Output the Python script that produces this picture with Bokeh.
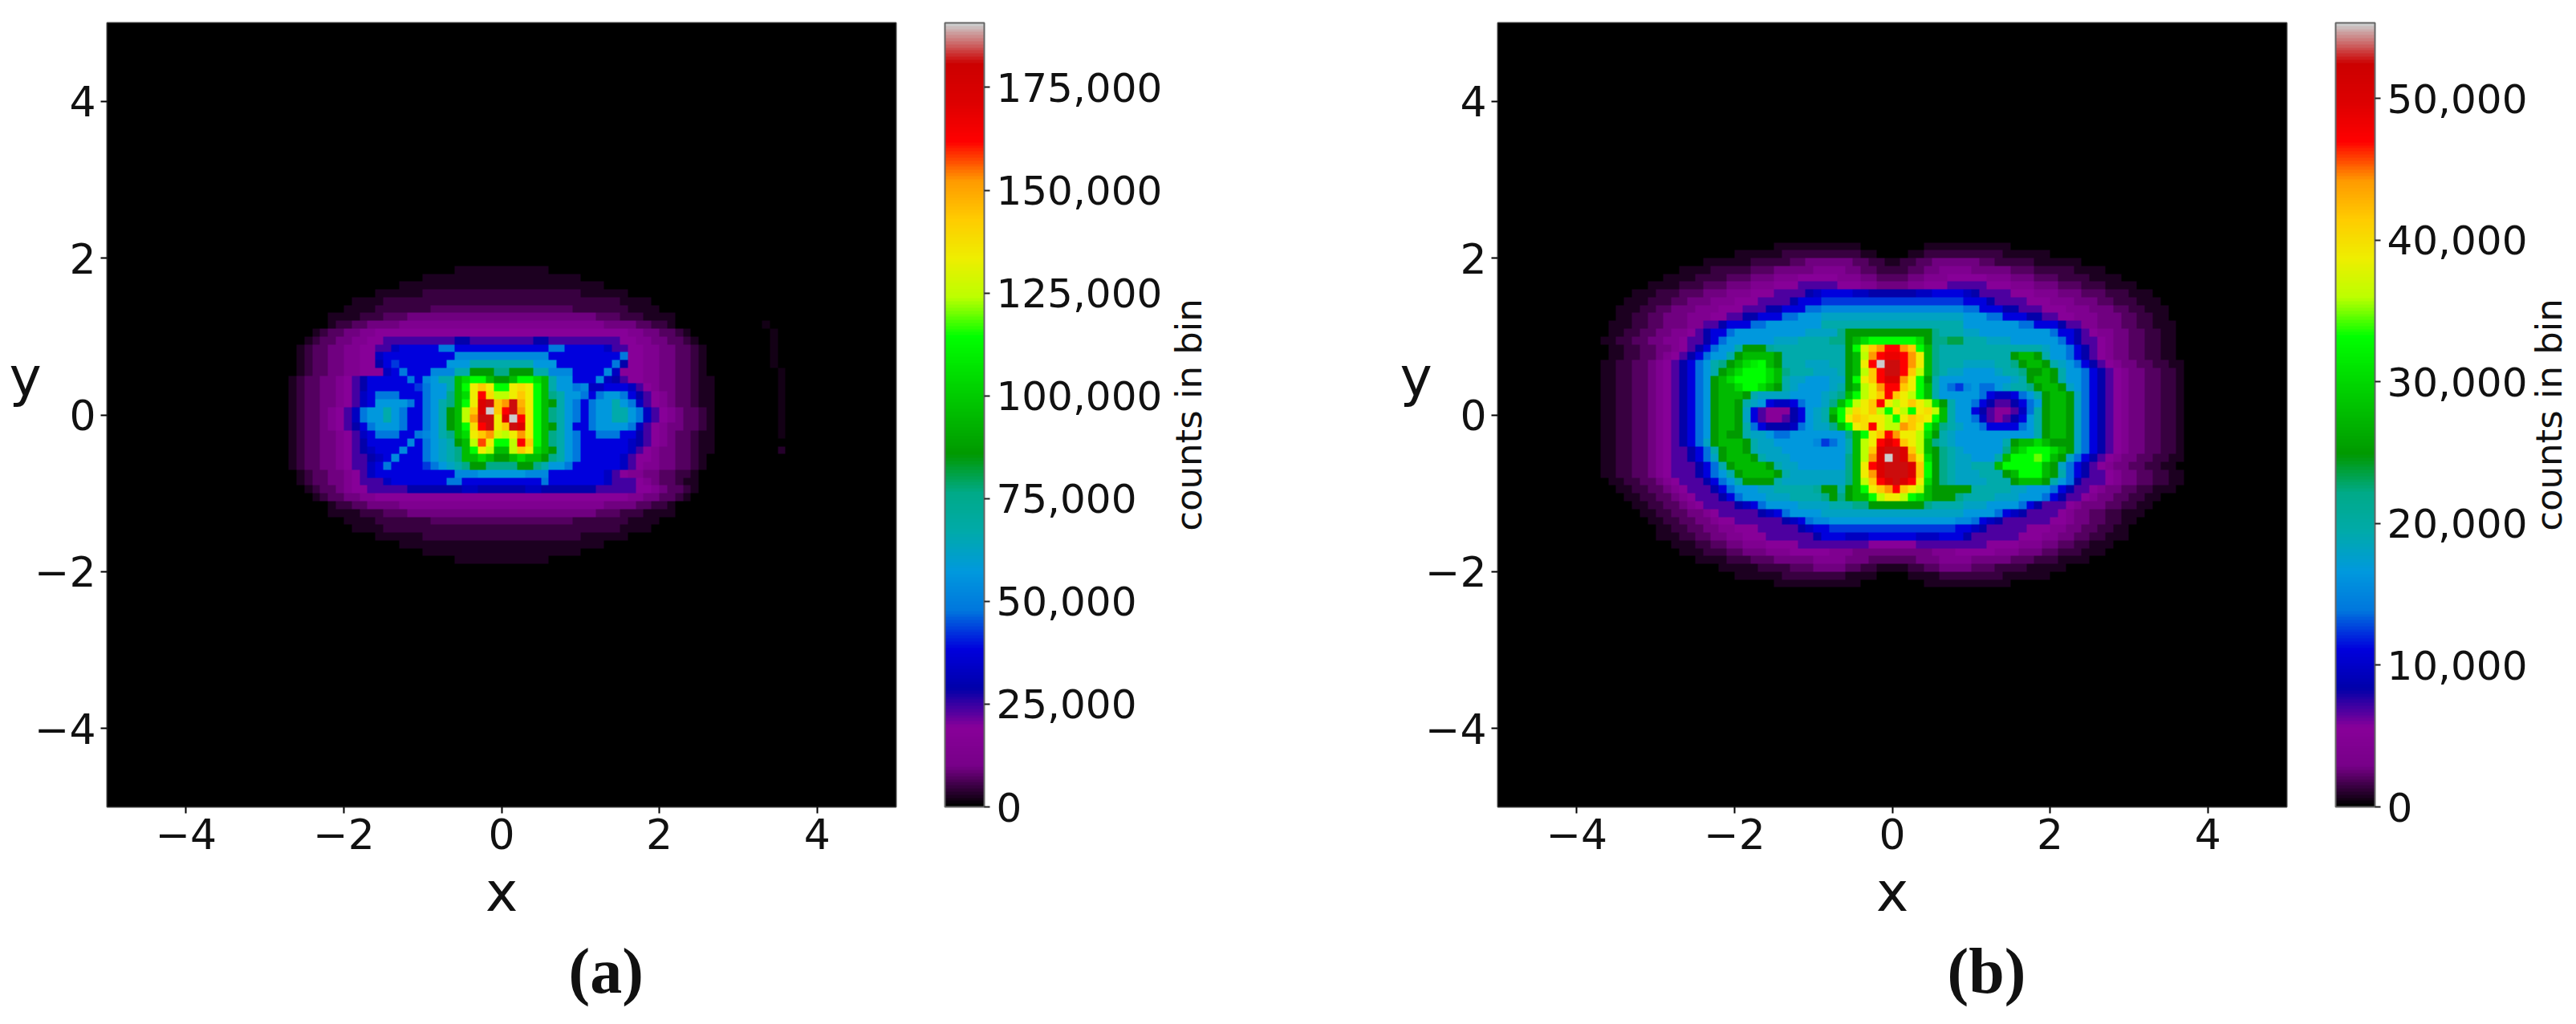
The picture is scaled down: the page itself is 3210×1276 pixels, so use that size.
import numpy as np
from bokeh.embed import file_html
from bokeh.layouts import row
from bokeh.models import ColorBar, FixedTicker, LinearColorMapper, NumeralTickFormatter, Title
from bokeh.plotting import figure
from bokeh.resources import INLINE

# Colour scale (nipy_spectral anchors, evenly spaced)
scale_colors = ["#000000", "#770088", "#880099", "#0000aa", "#0000dd", "#0077dd", "#0099dd", "#00aaaa",
                "#00aa88", "#009900", "#00bb00", "#00dd00", "#00ff00", "#bbff00", "#eeee00", "#ffcc00",
                "#ff9900", "#ff0000", "#dd0000", "#cc0000", "#cccccc"]

axis_ticks = [-4, -2, 0, 2, 4]
axis_tick_labels = {-4: "\u22124", -2: "\u22122", 0: "0", 2: "2", 4: "4"}
a_bar_ticks = [0, 25000, 50000, 75000, 100000, 125000, 150000, 175000]
b_bar_ticks = [0, 10000, 20000, 30000, 40000, 50000]
a_peak = 190700
b_peak = 55350
bin_count = 100

# Read bin levels, run-length coded row by row from the top (char + repeat); "|" marks x = 0.
# A level is 1/40 of the peak.
level_chars = {".": 0.5, ":": 1.5}
for i, c in enumerate("0123456789abcdefghijklmnopqrstuvwxyzABCDE"):
    level_chars[c] = float(i)

a_rows = [
    "|",
    ".6 | .6",
    ".10 | .10",
    ".13 | .13",
    ".6 110 | 110 .6",
    ".4 115 | 115 .4",
    ".4 17 :9 | :9 17 .4",
    ".4 13 :3 212 | 212 :3 13 .4",
    ". 12 :2 24 313 | 313 24 :2 12 .",
    ". 1 :2 22 32 416 | 416 32 22 :2 1 .",
    ". 1 :2 22 32 42 59 62 54 | 54 62 59 42 32 22 :2 1 .",
    ". 1 :2 22 32 42 52 7 85 a2 86 | 86 a2 85 7 52 42 32 22 :2 1 .",
    ". 1 :2 22 32 42 7 89 b6 | b6 89 a 42 32 22 :2 1 .",
    ". 1 :2 22 32 42 6 8 9 86 c3 e4 | e4 c3 87 a 6 42 32 22 :2 1 .",
    ". 1 :2 22 32 43 7 8 a 83 b3 e2 i3 g | g i3 e2 b3 84 b 7 43 32 22 :2 1 .",
    ". 1 :2 22 3 4 5 6 8 84 a 8 b c e2 k m o o k i | i k o o m k e c2 8 82 b 7 6 5 42 3 3 22 :2 1 . .",
    ". 1 :2 22 3 4 5 6 8 85 9 a c2 e k o s u s o | o s t s o k e c2 a b 7 7 8 82 7 5 4 3 22 :2 1 . .",
    ". 1 :2 22 3 4 5 7 8 a3 83 a c2 g k m s y t q | q s u s o k g e c2 a 8 a c2 a 8 6 5 4 3 2 :2 1 . .",
    ". 1 :2 22 3 4 5 7 8 c4 a 8 a c e g k o s A C u | w C v s o k i e c a 8 a c2 e c a 7 5 4 3 2 :2 1 . .",
    ". 1 :2 2 3 4 5 7 a c2 e c a 8 8 a c e i k q u A E u | y C w s o k g e c a 8 a c2 e2 c a 7 5 4 3 2 :2 1 .",
    ". 1 :2 2 3 4 5 7 a c2 e c a 8 8 a c e i k q w C C s | A E y s o k g e c a 8 a c2 e2 c a 7 5 4 3 2 :2 1 .",
    ". 1 :2 2 3 4 5 6 8 a c3 a 8 8 a c e i k o t y C s | u C A s o k i e c 8 8 a c3 c a 7 5 4 3 2 2 :2 1 .",
    ". 1 :2 22 3 4 5 7 8 a3 82 a b c e g k m s u w r | q s w s o k g e c a 82 a3 82 6 5 4 3 2 :2 1 . .",
    ". 1 :2 22 3 4 5 6 8 84 b 8 a c d e i k q x s o | o q y u o k g e c a 8 85 7 6 5 4 3 2 :2 1 . .",
    ". 1 :2 22 3 4 5 6 7 83 b 82 a c d e g k o s q k | k q u s m k i e c a 8 85 7 5 4 3 22 :2 1 . .",
    ". 1 :2 22 3 4 52 6 7 8 b 8 82 a c d e g k k m k i | i k m k k i g e c a 82 83 7 5 42 3 22 :2 1 .",
    ". 1 :2 22 3 4 52 7 8 a 84 9 a c d e g i i g2 | g2 i i g e c2 a 8 85 7 5 4 32 22 :2 1 .",
    ". 1 :2 22 3 4 5 7 810 b3 c3 | c3 b3 87 7 5 4 32 22 :2 12 .",
    ". 1 :2 22 3 4 53 7 87 a2 85 | 85 a 87 7 53 4 3 2 :2 1 . .",
    ". 1 :2 2 3 42 55 67 72 63 | 63 72 67 55 42 3 2 :2 1 .",
    ". 1 :2 22 32 416 | 416 32 22 :2 1 .",
    ". 12 :2 24 313 | 313 24 :2 12 .",
    ".4 13 :3 212 | 212 :3 13 .4",
    ".4 17 :9 | :9 17 .4",
    ".4 115 | 115 .4",
    ".6 110 | 110 .6",
    ".13 | .13",
    ".10 | .10",
    ".6 | .6",
    "|",
]

# Faint trace to the right of the cloud in panel (a)
a_trace_x = [3.35, 3.4, 3.4, 3.45, 3.45, 3.45, 3.5, 3.5, 3.5, 3.5, 3.55, 3.55, 3.55, 3.55, 3.55, 3.55]
a_trace_y = [1.15, 1.05, 0.95, 0.85, 0.75, 0.65, 0.55, 0.45, 0.35, 0.25, 0.15, 0.05, -0.05, -0.15, -0.25, -0.45]
a_trace_counts = [1800, 1800, 1500, 1500, 1500, 1500, 1500, 1500, 1500, 1500, 1500, 1500, 1500, 1800, 1800, 3000]

b_rows = [
    ".11 04 | 04 .11",
    ".6 110 .2 02 | 02 .2 110 .6",
    ".6 15 :2 26 :2 12 . | . 12 :2 26 :2 15 .6",
    ".4 15 :3 25 34 22 :2 12 | 12 :2 22 34 25 :3 15 .4",
    ".4 14 :3 23 33 45 33 22 :2 | :2 22 33 45 33 23 :3 14 .4",
    ".4 13 :3 23 33 43 55 43 32 22 | 22 32 43 55 43 33 23 :3 13 .4",
    ".3 13 :3 23 33 43 54 6 7 84 72 63 | 63 72 84 7 6 54 43 33 23 :3 13 .3",
    ".3 13 :2 23 33 43 54 6 83 99 | 99 83 6 54 43 33 23 :2 13 .3",
    ".3 12 :2 23 33 43 53 62 83 a2 b9 | b9 a2 83 62 53 43 33 23 :2 12 .3",
    ".2 12 :2 23 33 42 52 62 83 a2 c3 d9 | d9 c3 a2 83 62 52 42 33 23 :2 12 .2",
    ".3 12 :2 23 32 52 6 83 a2 c7 e9 | e9 c7 a2 83 6 52 32 23 :2 12 .3",
    ".2 12 :2 22 32 4 5 6 82 a c9 d4 g i6 | i5 g e3 d2 c9 a 82 6 5 4 32 22 :2 12 .2",
    ".2 12 :2 22 32 4 52 6 8 a c6 d3 e4 g2 i k m o3 | o3 m i g2 h2 e3 d3 c6 a 8 6 52 4 3 22 :2 12 .2",
    ".2 12 :2 22 3 4 5 6 8 a c2 e i3 f e9 i o r u w y | y w u o k g e13 d c2 a 8 6 5 4 3 22 :2 12 .2",
    ".2 12 :2 2 3 4 5 6 8 a c2 e i k4 i e8 i k q w y z | z y w s k g e9 i k2 i e c2 a 8 6 5 4 3 22 :2 12 .2",
    ".2 12 :2 2 3 4 5 6 8 a c e g i k m n o k i e3 d3 e2 i k s y E C | C y w s k g e3 d4 e2 g i k2 i e d c a 8 6 5 4 3 22 :2 12 .2",
    ".2 12 :2 2 3 4 5 6 8 a c e i k m o3 m k g e3 d3 e i k q u y C | C y u q k g e d2 c4 d e2 g i2 k i e c2 a 8 6 5 4 3 22 :2 12 .",
    ".2 12 :2 2 3 4 5 6 8 a c i k m o4 m k e d2 c3 d2 i o s u y A | A w s o i e c9 d e i k2 i e c2 a 8 6 5 4 3 22 :2 12 .",
    ".2 12 :2 2 3 4 5 6 8 a c i k2 m o2 m k i e d c4 d e i k q s w y | y u s o k e c a 9 b c a2 c d e2 g i k2 i d c a 8 6 5 4 3 22 :2 12 .",
    ".2 12 :2 2 3 4 5 6 8 a c i k3 i e d4 c4 d e g k o q s u y | u s q o k e c5 a 8 7 7 8 a c e i k2 i d a 8 6 5 4 3 22 :2 12 .",
    ".2 12 :2 2 3 4 5 6 8 a c i k2 i e d c 8 7 7 8 a c2 d g k o q s u y s | q s u s q m i e c2 a 8 6 5 5 6 8 a c i k2 i d a 8 6 5 4 3 22 :2 12 .",
    ".2 12 :2 2 3 4 5 6 8 a c i k2 i d 8 5 4 4 4 6 8 c d e k o q t s u q o | s q o s t q k e c2 8 6 5 4 4 5 7 a e i k2 i d a 8 6 5 4 3 22 :2 12 .",
    ".2 12 :2 2 3 4 5 6 8 a c i k2 i d 8 5 4 4 5 6 8 c d e i o s u t s s q | o s u t s o k e c2 a 7 5 4 5 6 8 c e i k2 i d a 8 6 5 4 3 22 :2 12 .",
    ".2 12 :2 2 3 4 5 6 8 a c i k2 i e a 8 6 6 6 7 a c d2 g k o s t y s q | q w u s o k g e d c2 a 84 a c e i k2 i d a 8 6 5 4 3 22 :2 12 .",
    ".2 12 :2 2 3 4 5 6 8 a c i k i2 e d2 c a a c7 g k o s u y | w s s q m i e d c10 e i k2 i d a 8 6 5 4 3 22 :2 12 .",
    ".2 12 :2 2 3 4 5 6 8 a d i k3 i e d2 c5 b 9 a c e k q s y A | y u s q k g e d c6 e i k2 m k i3 d a 8 6 5 4 3 22 :2 12 .",
    ".2 12 :2 2 3 4 5 5 6 8 a e i k2 i e d3 c8 e k q u A C | C A u q k i g e d c5 g k m o3 m k i d a 8 6 5 4 3 22 :2 12 .",
    ".2 12 :2 2 3 4 5 5 6 8 a d i k3 i e d3 c7 g k q w A E | C A w s m i g e d2 c3 e k o3 p o k i d a 8 6 5 4 3 22 :2 12 .2",
    ".2 12 :2 2 3 4 5 5 5 6 8 a e i k4 i e d2 c6 g k s y A C | C C A u o i g e d2 e3 k o5 k i d a 8 6 5 4 3 22 :2 12 .2",
    ".2 12 :2 2 3 4 53 6 8 a c e i k4 i e d7 g k s w A C | C C A u o i g e d3 e3 i k o3 k i e a 8 6 52 4 3 22 :2 12 .2",
    ".2 12 :2 2 3 4 53 6 8 a c e i3 i e d8 g k q u y A | C A y s m i g e d4 e3 i k3 i e c a 6 53 4 3 2 2 :2 12 .2",
    ".2 12 :2 2 3 4 53 6 8 a c3 d2 e5 f i2 e i k o s u w | y u s q k i3 i2 e5 d2 c3 a 8 6 52 4 3 22 :2 12 .3",
    ".2 12 :2 2 3 4 53 6 8 a c3 d3 e4 g i g i k2 o q s | s q o m k i3 g e4 d3 c3 a 8 6 52 4 3 22 :2 12 .2",
    ".2 12 :2 2 3 4 54 6 7 8 a c4 d4 e3 g2 i3 | i4 g e4 d3 c4 a 8 6 53 4 3 23 :2 12 .2",
    ".2 12 :2 22 3 4 55 6 7 8 a c4 d9 | d9 c4 a 8 7 6 54 4 3 22 :2 12 .3",
    ".2 12 :2 22 3 42 56 6 7 8 a b2 c8 | c8 b2 a 8 7 6 56 42 3 22 :2 12 .2",
    ".2 12 :2 22 32 43 55 6 7 82 98 | 98 82 7 6 55 43 32 22 :2 12 .2",
    ".3 12 :2 22 32 43 56 6 83 73 83 | 83 73 83 6 56 43 32 22 :2 12 .3",
    ".3 12 :2 22 33 44 56 53 43 | 43 53 56 44 33 22 :2 12 .3",
    ".3 13 :2 23 33 45 33 22 23 | 23 22 33 45 33 23 :2 13 .3",
    ".4 13 :3 25 34 23 :2 : | : :2 23 34 25 :3 13 .4",
    ".5 14 :3 24 :2 12 .2 | .2 12 :2 24 :3 14 .5",
    ".6 18 .4 02 | 02 .4 18 .6",
    ".11 04 | 04 .11",
]


def expand(rows, peak):
    grid = np.zeros((bin_count, bin_count))
    top = (bin_count - len(rows)) // 2
    mid = bin_count // 2
    for r, text in enumerate(rows):
        sides = []
        for part in text.split("|"):
            cells = []
            for tok in part.split():
                cells += [level_chars[tok[0]]] * (int(tok[1:]) if tok[1:] else 1)
            sides.append(np.array(cells, dtype=float))
        j = bin_count - 1 - (top + r)
        grid[j, mid - len(sides[0]):mid] = sides[0] / 40.0 * peak
        grid[j, mid:mid + len(sides[1])] = sides[1] / 40.0 * peak
    return grid


a_grid = expand(a_rows, a_peak)
for x, y, v in zip(a_trace_x, a_trace_y, a_trace_counts):
    a_grid[int((y + 5) * 10), int((x + 5) * 10)] = v
b_grid = expand(b_rows, b_peak)

stops = np.linspace(0, 1, len(scale_colors))
rgb = np.array([[int(c[i:i + 2], 16) for i in (1, 3, 5)] for c in scale_colors], dtype=float)
fine = np.linspace(0, 1, 256)
palette = ["#%02x%02x%02x" % tuple(int(round(np.interp(t, stops, rgb[:, k]))) for k in range(3)) for t in fine]

FONT = "DejaVu Sans"
INK = "#111111"
FRAME_W, FRAME_H = 983, 977
LEFT, TOP, BOTTOM = 133, 28, 263


def panel(grid, peak, ticks, letter, right_border, letter_offset):
    mapper = LinearColorMapper(palette=palette, low=0, high=peak)
    p = figure(frame_width=FRAME_W, frame_height=FRAME_H, x_range=(-5, 5), y_range=(-5, 5),
               output_backend="svg", toolbar_location=None, min_border_left=LEFT, min_border_right=right_border,
               min_border_top=TOP, min_border_bottom=BOTTOM, background_fill_color="black", border_fill_color="white",
               outline_line_color="#444444", outline_line_width=2)
    p.image(image=[grid], x=-5, y=-5, dw=10, dh=10, color_mapper=mapper)
    p.grid.visible = False
    for ax in (p.xaxis[0], p.yaxis[0]):
        ax.ticker = FixedTicker(ticks=axis_ticks)
        ax.major_label_overrides = axis_tick_labels
        ax.major_label_text_font = FONT
        ax.major_label_text_font_size = "52px"
        ax.major_label_text_color = INK
        ax.major_tick_in = 0
        ax.major_tick_out = 8
        ax.major_tick_line_width = 2
        ax.major_label_standoff = 6
        ax.minor_tick_line_color = None
        ax.axis_line_color = None
        ax.major_label_orientation = "horizontal"
        ax.axis_label_text_font = FONT
        ax.axis_label_text_font_style = "normal"
        ax.axis_label_text_font_size = "68px"
        ax.axis_label_text_color = INK
    p.xaxis[0].axis_label = "x"
    p.xaxis[0].axis_label_standoff = 11
    p.yaxis[0].axis_label = "y\n\u00a0"
    p.yaxis[0].axis_label_orientation = "horizontal"
    p.yaxis[0].axis_label_standoff = -12
    bar = ColorBar(color_mapper=mapper, location=(FRAME_W + 61, 0), width=49, height=FRAME_H, padding=0, margin=0,
                   ticker=FixedTicker(ticks=ticks), formatter=NumeralTickFormatter(format="0,0"),
                   major_label_text_font=FONT, major_label_text_font_size="50px",
                   major_label_text_color=INK, major_tick_in=0, major_tick_out=7,
                   major_tick_line_color="#222222", major_tick_line_width=2, label_standoff=8,
                   bar_line_color="#666666", bar_line_width=2, background_fill_color=None)
    p.add_layout(bar, "center")
    p.add_layout(Title(text=letter, align="left", offset=letter_offset, standoff=20, text_font="Liberation Serif",
                       text_font_style="bold", text_font_size="80px", text_color=INK), "below")
    return p


def side_label(width):
    s = figure(width=width, height=TOP + FRAME_H + BOTTOM, x_axis_type=None, y_axis_type=None,
               output_backend="svg", toolbar_location=None, outline_line_color=None, min_border_left=0,
               min_border_right=0, min_border_top=TOP, min_border_bottom=BOTTOM)
    s.grid.visible = False
    s.add_layout(Title(text="counts in bin", align="center", standoff=0, text_font=FONT, text_font_style="normal",
                       text_font_size="45px", text_color=INK), "left")
    return s


p_a = panel(a_grid, a_peak, a_bar_ticks, "(a)", 336, 575)
s_a = side_label(281)
p_b = panel(b_grid, b_peak, b_bar_ticks, "(b)", 300, 560)
s_b = side_label(53)
page = row(p_a, s_a, p_b, s_b, spacing=0)

open("out.html", "w").write(file_html(page, INLINE))
